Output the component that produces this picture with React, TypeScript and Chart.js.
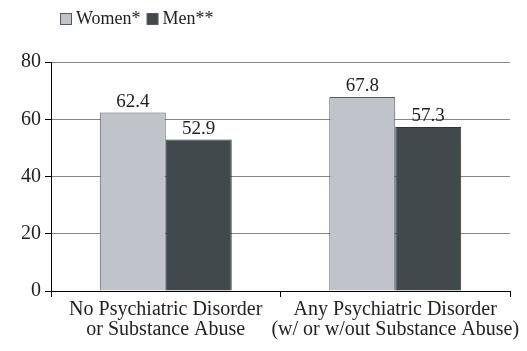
import React, { useEffect, useRef } from "react";
import { Chart, registerables } from "chart.js";

Chart.register(...registerables);

const categories: string[][] = [
  ["No Psychiatric Disorder", "or Substance Abuse"],
  ["Any Psychiatric Disorder", "(w/ or w/out Substance Abuse)"],
];
const seriesNames: string[] = ["Women*", "Men**"];
const women: number[] = [62.4, 67.8];
const men: number[] = [52.9, 57.3];
const yTicks: number[] = [0, 20, 40, 60, 80];

const FONT = "'Liberation Serif', 'DejaVu Serif', serif";

const valueLabels = {
  id: "valueLabels",
  afterDatasetsDraw(chart: any) {
    const { ctx } = chart;
    ctx.save();
    ctx.font = `19px ${FONT}`;
    ctx.fillStyle = "#222";
    ctx.textAlign = "center";
    ctx.textBaseline = "bottom";
    chart.data.datasets.forEach((ds: any, i: number) => {
      const meta = chart.getDatasetMeta(i);
      meta.data.forEach((bar: any, j: number) => {
        ctx.fillText(ds.data[j].toFixed(1), bar.x, bar.y - 1);
      });
    });
    ctx.restore();
  },
};

const topLegend = {
  id: "topLegend",
  afterDraw(chart: any) {
    const { ctx } = chart;
    ctx.save();
    ctx.font = `18px ${FONT}`;
    ctx.textBaseline = "middle";
    ctx.textAlign = "left";
    let x = 60;
    const y = 19;
    chart.data.datasets.forEach((ds: any) => {
      ctx.fillStyle = ds.backgroundColor;
      ctx.fillRect(x + 0.5, y - 5.5, 11, 11);
      ctx.strokeStyle = "#555a5e";
      ctx.lineWidth = 1;
      ctx.strokeRect(x + 0.5, y - 5.5, 11, 11);
      ctx.fillStyle = "#222";
      ctx.fillText(ds.label, x + 16, y);
      x += 16 + ctx.measureText(ds.label).width + 6;
    });
    ctx.restore();
  },
};

export default function App() {
  const ref = useRef<HTMLCanvasElement>(null);
  useEffect(() => {
    document.body.style.margin = "0";
    const chart = new Chart(ref.current!, {
      type: "bar",
      data: {
        labels: categories,
        datasets: [
          {
            label: seriesNames[0],
            data: women,
            backgroundColor: "#c0c4ca",
            borderColor: "#555a5e",
            borderWidth: 1,
          },
          {
            label: seriesNames[1],
            data: men,
            backgroundColor: "#41494c",
            borderColor: "#2e3436",
            borderWidth: 1,
          },
        ],
      },
      options: {
        animation: false,
        responsive: false,
        maintainAspectRatio: false,
        layout: { padding: { left: 17, right: 17, top: 62, bottom: 8 } },
        datasets: { bar: { barPercentage: 1, categoryPercentage: 0.575 } },
        plugins: {
          legend: { display: false },
          tooltip: { enabled: false },
        },
        scales: {
          x: {
            grid: {
              offset: true,
              drawOnChartArea: false,
              drawTicks: true,
              tickLength: 6,
              tickColor: "#000",
            },
            border: { color: "#000", width: 1 },
            ticks: {
              color: "#222",
              font: { family: FONT, size: 20, lineHeight: 1.0 },
              padding: 3,
              maxRotation: 0,
              autoSkip: false,
            },
          },
          y: {
            min: 0,
            max: 80,
            afterBuildTicks: (axis: any) => {
              axis.ticks = yTicks.map((v) => ({ value: v }));
            },
            grid: {
              color: "#868686",
              tickColor: "#000",
              tickLength: 6,
            },
            border: { color: "#000", width: 1 },
            ticks: {
              color: "#222",
              font: { family: FONT, size: 20 },
              padding: 4,
            },
          },
        },
      },
      plugins: [valueLabels, topLegend],
    });
    return () => chart.destroy();
  }, []);
  return (
    <div style={{ width: 527, height: 351 }}>
      <canvas ref={ref} width={527} height={351} />
    </div>
  );
}
